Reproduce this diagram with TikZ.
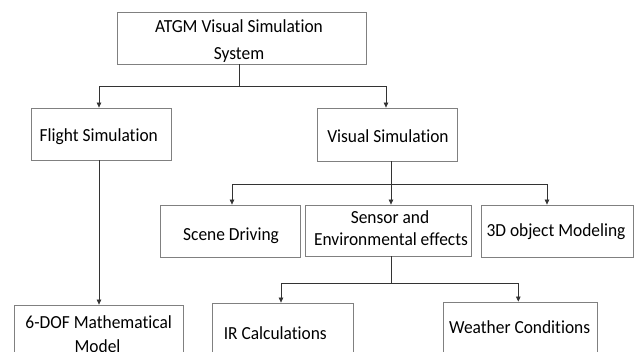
\documentclass[tikz,border=0pt]{standalone}
\usepackage{fontspec}
\setmainfont{Carlito}[RawFeature=-liga]
\usetikzlibrary{arrows.meta}
\newcommand\dfont{\fontsize{17.4}{21}\selectfont}
\newcommand\tl[1]{\scalebox{1}[1.06]{#1}}
\begin{document}
\begin{tikzpicture}[x=1pt,y=-1pt,
  box/.style={draw=black!50,line width=0.8pt,inner sep=0pt,fill=white},
  txt/.style={font=\dfont,inner sep=0pt,anchor=base,text=black},
  conn/.style={draw=black!80,line width=0.7pt},
  arr/.style={conn,-{Triangle[length=5pt,width=4.5pt]}}]
\useasboundingbox (0,0) rectangle (635,351);
\clip (0,0) rectangle (635,351);
\fill[white] (0,0) rectangle (635,351);
% boxes
\node[box,minimum width=249pt,minimum height=52pt] (top) at (241.5,38) {};
\node[box,minimum width=140pt,minimum height=52pt] (flight) at (101,134) {};
\node[box,minimum width=140pt,minimum height=53pt] (visual) at (387,134.5) {};
\node[box,minimum width=140pt,minimum height=52pt] (scene) at (230,231) {};
\node[box,minimum width=166pt,minimum height=51pt] (sensor) at (388,230.5) {};
\node[box,minimum width=152pt,minimum height=52pt] (d3) at (557,231) {};
\node[box,minimum width=169pt,minimum height=55pt] (dof) at (98.5,332.5) {};
\node[box,minimum width=141pt,minimum height=57pt] (ir) at (282.5,331.5) {};
\node[box,minimum width=154pt,minimum height=58pt] (weather) at (520,331) {};
% texts
\node[txt] (tTopA) at (239,32.3) {\tl{ATGM Visual Simulation}};
\node[txt] (tTopB) at (239,59) {\tl{System}};
\node[txt] (tFlight) at (98.8,141.7) {\tl{Flight Simulation}};
\node[txt] (tVisual) at (388,142.7) {\tl{Visual Simulation}};
\node[txt] (tScene) at (231,240.7) {\tl{Scene Driving}};
\node[txt] (tSensorA) at (390,223.3) {\tl{Sensor and}};
\node[txt] (tSensorB) at (391,245) {\tl{Environmental effects}};
\node[txt] (tD3) at (556,236.7) {\tl{3D object Modeling}};
\node[txt] (tDofA) at (98.7,328.3) {\tl{6-DOF Mathematical}};
\node[txt] (tDofB) at (97.5,352.8) {\tl{Model}};
\node[txt] (tIR) at (275.3,339) {\tl{IR Calculations}};
\node[txt] (tWeather) at (519.7,333.3) {\tl{Weather Conditions}};
% connectors
\coordinate (j1) at (239,86);
\coordinate (j2) at (391,184);
\coordinate (j3) at (391,283);
\draw[conn] (top.south -| j1) -- (j1);
\draw[arr] (j1) -| ([xshift=-2pt]flight.north);
\draw[arr] (j1) -| ([xshift=-1pt]visual.north);
\draw[arr] ([xshift=-2pt]flight.south) -- ([xshift=-2pt]flight.south |- dof.north);
\draw[arr] (j2 |- visual.south) -- (j2 |- sensor.north);
\draw[arr] (j2) -| ([xshift=2pt]scene.north);
\draw[arr] (j2) -| ([xshift=-10pt]d3.north);
\draw[conn] (j3 |- sensor.south) -- (j3);
\draw[arr] (j3) -| ([xshift=-1.5pt]ir.north);
\draw[arr] (j3) -| ([xshift=-1.7pt]weather.north);
\end{tikzpicture}
\end{document}
